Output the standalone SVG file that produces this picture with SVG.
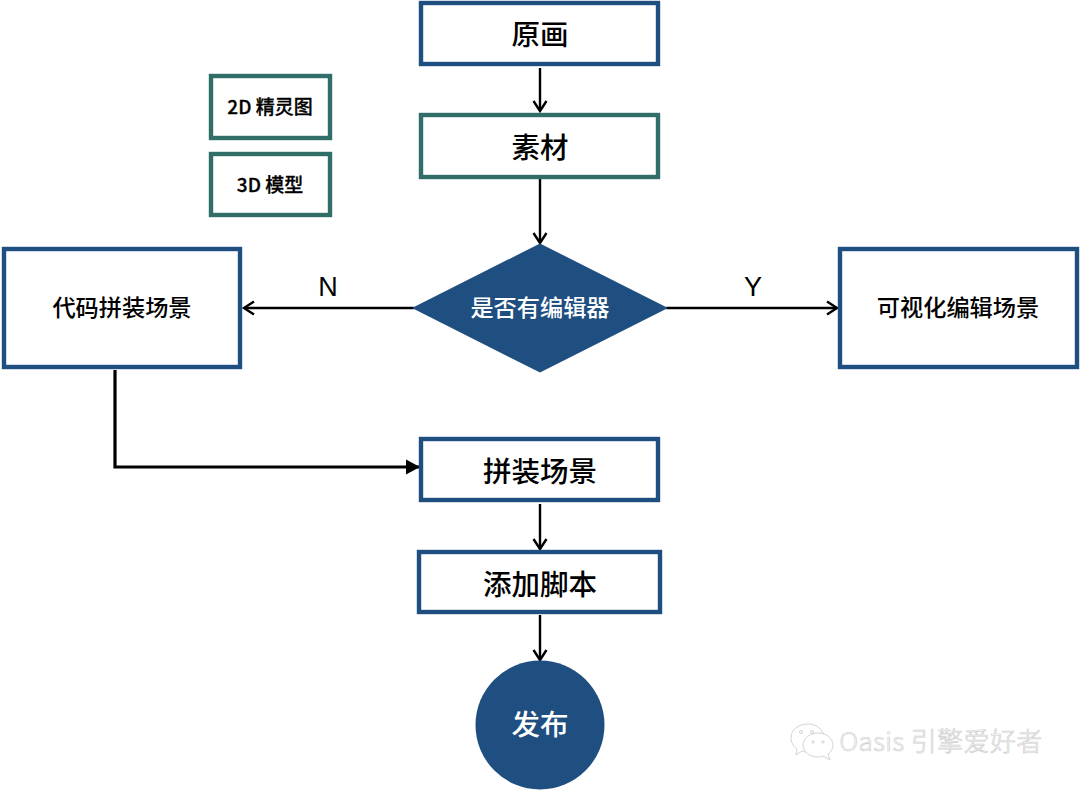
<svg xmlns="http://www.w3.org/2000/svg" width="1080" height="790" viewBox="0 0 1080 790">
<style>
text{font-family:"Liberation Sans","Noto Sans CJK SC",sans-serif;text-anchor:middle;fill:#000}
.cjk{font-family:"Noto Sans CJK SC","Liberation Sans",sans-serif;font-weight:500}
.box{fill:#fff;stroke-width:4.4}
.blue{stroke:#1f4e80}
.green{stroke:#326e68}
.big{font-size:28.5px}
.mid{font-size:23.2px}
.small{font-size:19px;font-weight:500;stroke:#000;stroke-width:.3}
.wht{fill:#fff}
.conn{fill:none;stroke:#000;stroke-width:2.4}
.wm{fill:#fff;stroke:#cfcfcf;stroke-width:.7;font-family:"Noto Sans CJK SC","Liberation Sans",sans-serif;font-weight:300;font-size:26px}
.wmi{fill:#fff;stroke:#d4d4d4;stroke-width:1}
</style>
<defs>
<marker id="open" markerUnits="userSpaceOnUse" markerWidth="18" markerHeight="18" refX="13" refY="9" orient="auto"><path d="M3 2.5L13 9L3 15.5" fill="none" stroke="#000" stroke-width="2.4"/></marker>
<marker id="solid" markerUnits="userSpaceOnUse" markerWidth="18" markerHeight="18" refX="15" refY="9" orient="auto"><path d="M1 1.5L15 9L1 16.5Z" fill="#000"/></marker>
</defs>
<rect width="1080" height="790" fill="#fff"/>
<g id="connectors">
<path class="conn" marker-end="url(#open)" d="M540 68V111"/>
<path class="conn" marker-end="url(#open)" d="M540 179V243"/>
<path class="conn" marker-end="url(#open)" d="M414 308H244"/>
<path class="conn" marker-end="url(#open)" d="M666 308H837"/>
<path class="conn" style="stroke-width:3.2" marker-end="url(#solid)" d="M115 370V467H420"/>
<path class="conn" marker-end="url(#open)" d="M540 504V549"/>
<path class="conn" marker-end="url(#open)" d="M540 615V660"/>
<text x="328" y="296" style="font-size:27px">N</text>
<text x="753" y="296" style="font-size:27px">Y</text>
</g>
<g id="n-yuanhua"><rect class="box blue" x="421" y="3" width="237" height="61"/><text class="cjk big" x="540" y="45">原画</text></g>
<g id="n-sucai"><rect class="box green" x="421" y="115" width="237" height="62"/><text class="cjk big" x="540" y="158">素材</text></g>
<g id="n-2d"><rect class="box green" x="211" y="76" width="119" height="62"/><text class="cjk small" x="270" y="114">2D 精灵图</text></g>
<g id="n-3d"><rect class="box green" x="211" y="154" width="119" height="61"/><text class="cjk small" x="270" y="192">3D 模型</text></g>
<g id="n-code"><rect class="box blue" x="4" y="249" width="236" height="118"/><text class="cjk mid" x="122" y="316">代码拼装场景</text></g>
<g id="n-decision"><path fill="#1f4e80" d="M540 243.500L668 308L540 372.500L412 308Z"/><text class="cjk mid wht" x="540" y="316">是否有编辑器</text></g>
<g id="n-visual"><rect class="box blue" x="840" y="249" width="237" height="118"/><text class="cjk mid" x="958" y="316">可视化编辑场景</text></g>
<g id="n-pinzhuang"><rect class="box blue" x="421" y="439" width="237" height="61"/><text class="cjk big" x="540" y="482">拼装场景</text></g>
<g id="n-script"><rect class="box blue" x="419" y="552" width="241" height="60"/><text class="cjk big" x="540" y="595">添加脚本</text></g>
<g id="n-publish"><circle cx="540" cy="725" r="64.500" fill="#1f4e80"/><text class="cjk big wht" x="540" y="735">发布</text></g>
<g id="watermark">
<path class="wmi" d="M808 724c-10 0-17 6-17 14 0 4 2 8 6 11l-1 6 6-4c2 1 4 1 6 1 8 0 16-5 16-14 0-8-7-14-16-14Z"/>
<path class="wmi" d="M818 733c-8 0-15 5-15 12s7 12 15 12c2 0 3 0 5-1l7 4-2-6c3-2 5-5 5-9 0-7-7-12-15-12Z"/>
<circle class="wmi" cx="801" cy="732" r="1.500"/><circle class="wmi" cx="812" cy="732" r="1.500"/>
<circle class="wmi" cx="813" cy="742" r="1.200"/><circle class="wmi" cx="823" cy="742" r="1.200"/>
<text class="wm" x="941" y="751" style="letter-spacing:.4px">Oasis 引擎爱好者</text>
</g>
</svg>
